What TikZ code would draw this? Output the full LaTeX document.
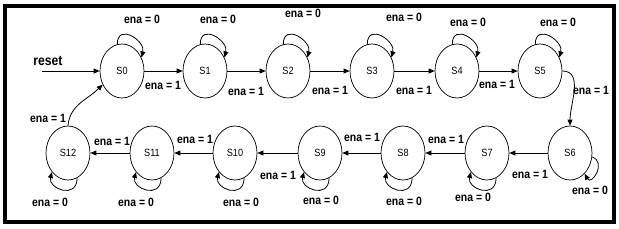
\documentclass[tikz,border=0pt]{standalone}
\usepackage{fontspec}
\setmainfont[FakeStretch=0.87]{Liberation Sans}
\usetikzlibrary{arrows.meta,shapes.geometric,positioning}
\tikzset{
  statenode/.style={draw, ellipse, line width=0.7pt, minimum width=44pt, minimum height=54pt,
    inner sep=0pt, font=\fontsize{10.5}{12}\selectfont},
  lbl/.style={inner sep=0pt, font=\bfseries\fontsize{12}{13}\selectfont},
  arr/.style={-{Triangle[length=6pt,width=5pt]}, line width=0.8pt},
  selfloop/.style={arr, out distance=22pt, in distance=17pt},
}

\begin{document}
\begin{tikzpicture}[x=1pt,y=1pt]
  \useasboundingbox (0,0) rectangle (619,-228);
  \draw[line width=3.5pt] (5,-6) rectangle (614,-222);

  % top row
  \node[statenode] (S0) at (122,-71) {S0};
  \node[statenode] (S1) at (205,-71) {S1};
  \node[statenode] (S2) at (288,-71) {S2};
  \node[statenode] (S3) at (372,-71) {S3};
  \node[statenode] (S4) at (457,-71) {S4};
  \node[statenode] (S5) at (540,-71) {S5};
  % bottom row
  \node[statenode] (S6) at (570,-153) {S6};
  \node[statenode] (S7) at (487,-153) {S7};
  \node[statenode] (S8) at (403,-153) {S8};
  \node[statenode] (S9) at (320,-153) {S9};
  \node[statenode] (S10) at (235,-153) {S10};
  \node[statenode] (S11) at (152,-153) {S11};
  \node[statenode] (S12) at (68,-153) {S12};

  % reset
  \node[lbl, font=\bfseries\fontsize{14}{15}\selectfont] (rst) at (48,-61) {reset};
  \coordinate (rstin) at (42,-71);
  \draw[arr] (rstin) -- (S0.west);

  % transitions
  \draw[arr] (S0) -- (S1);
  \draw[arr] (S1) -- (S2);
  \draw[arr] (S2) -- (S3);
  \draw[arr] (S3) -- (S4);
  \draw[arr] (S4) -- (S5);
  \draw[arr] (S5.east) to[out=0,in=90] (S6.north);
  \draw[arr] (S6) -- (S7);
  \draw[arr] (S7) -- (S8);
  \draw[arr] (S8) -- (S9);
  \draw[arr] (S9) -- (S10);
  \draw[arr] (S10) -- (S11);
  \draw[arr] (S11) -- (S12);
  \draw[arr] (S12.north) to[out=85,in=225] (S0.215);

  % self loops
  \foreach \s in {S0,S1,S2,S3,S4,S5}
    \draw[selfloop] (\s.100) to[out=90,in=75] (\s.35);
  \foreach \s in {S7,S8,S9,S10,S11,S12}
    \draw[selfloop] (\s.-70) to[out=-90,in=-105] (\s.-130);
  \draw[arr, out distance=16pt, in distance=14pt] (S6.-10) to[out=-20,in=-60] (S6.-55);

  % labels ena = 1
  \node[lbl] (e01) at (163,-85) {ena = 1};
  \node[lbl] (e12) at (246,-91) {ena = 1};
  \node[lbl] (e23) at (330,-90) {ena = 1};
  \node[lbl] (e34) at (414,-90) {ena = 1};
  \node[lbl] (e45) at (497,-84) {ena = 1};
  \node[lbl] (e56) at (591,-90) {ena = 1};
  \node[lbl] (e67) at (530,-174) {ena = 1};
  \node[lbl] (e78) at (446,-139) {ena = 1};
  \node[lbl] (e89) at (362,-137) {ena = 1};
  \node[lbl] (e910) at (278,-175) {ena = 1};
  \node[lbl] (e1011) at (195,-139) {ena = 1};
  \node[lbl] (e1112) at (112,-141) {ena = 1};
  \node[lbl] (e120) at (48,-118) {ena = 1};

  % labels ena = 0
  \node[lbl] (z0) at (142,-19) {ena = 0};
  \node[lbl] (z1) at (218,-19) {ena = 0};
  \node[lbl] (z2) at (303,-13) {ena = 0};
  \node[lbl] (z3) at (404,-17) {ena = 0};
  \node[lbl] (z4) at (468,-22) {ena = 0};
  \node[lbl] (z5) at (558,-22) {ena = 0};
  \node[lbl] (z6) at (590,-190) {ena = 0};
  \node[lbl] (z7) at (473,-197) {ena = 0};
  \node[lbl] (z8) at (404,-201) {ena = 0};
  \node[lbl] (z9) at (321,-200) {ena = 0};
  \node[lbl] (z10) at (241,-202) {ena = 0};
  \node[lbl] (z11) at (136,-202) {ena = 0};
  \node[lbl] (z12) at (50,-202) {ena = 0};
\end{tikzpicture}
\end{document}
